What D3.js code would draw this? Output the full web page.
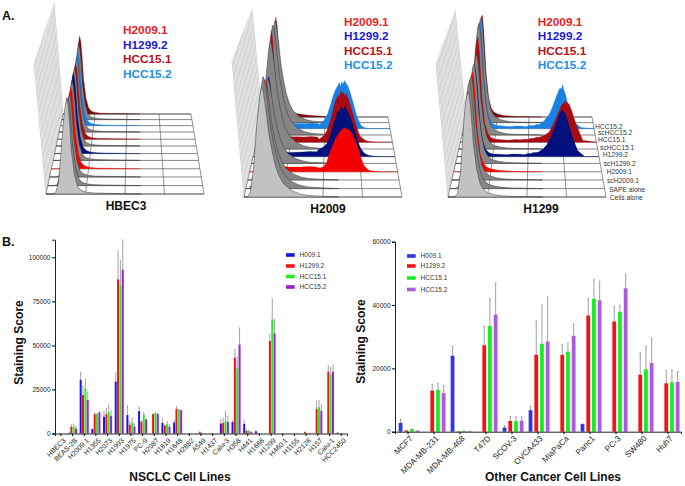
<!DOCTYPE html>
<html><head><meta charset="utf-8">
<script src="https://cdn.jsdelivr.net/npm/d3@7/dist/d3.min.js"></script>
<style>html,body{margin:0;background:#fff}svg{display:block}text{font-family:"Liberation Sans",Arial,sans-serif}</style>
</head><body><svg id="c" width="685" height="486"></svg>
<script>
// ---------- Panel A data ----------
const rowLabels = ["Cells alone","SAPE alone","scH2009.1","H2009.1","scH1299.2","H1299.2","scHCC15.1","HCC15.1","scHCC15.2","HCC15.2"];
const rowLabelX = [609.7,609,607,606.7,603.7,602.7,600,598,598,595];
const rowLabelY = [200,192,182.7,174,165.7,157,149.7,142,135,128.7];
const rowDepth = [0,.105,.213,.315,.42,.505,.6,.685,.775,.855,.93,1];
const rowFill = ["#c2c2c2","#858585","#858585","#f40000","#858585","#00107c","#858585","#a80c12","#858585","#1a80e4","#858585","#7c0c10"];
const lowU = [0,.02,.04,.06,.08,.1,.11,.12,.13,.14,.15,.16,.18,.2,.22,.25,.3,.35,.4,.45];
const lowHBEC3 = [0,0,0,1,12,55,75,90,100,92,72,46,20,8,4,2,1,.8,.6,.5];
const lowH2009 = [0,0,4,25,65,92,100,97,88,78,66,55,40,28,20,12,6,3,1.5,1];
const lowH1299 = [0,0,0,3,25,72,88,97,100,90,72,52,28,14,8,4,2,1,.6,.5];
const stainedH2009 = [0,0,3,20,58,88,100,92,72,54,40,30,18,11,7,4,3,2,1.5,1];
const stainedH1299 = [0,0,0,3,22,68,86,96,100,86,64,42,18,9,5,3,1.5,1,.6,.5];
const shoulderH2009 = [0,0,0,0,0,0,0,0,0,0,0,0,0,0,0,1,2,3,4,4];
const shoulderH1299 = [0,0,0,0,0,0,0,0,0,0,0,0,0,0,0,0,1,1,2,2];
const peaksHBEC3 = [96,88,84,82,80,81,78,76,75,74,76,78];
const peaksH2009 = [110,112,100,92,85,80,108,112,110,100,102,100];
const peaksH1299 = [105,108,104,100,100,88,95,105,112,108,106,102];
const highU = [.46,.48,.5,.52,.54,.56,.58,.6,.61,.62,.63,.64,.65,.66,.68,.7,.72,.74,.75,.76,.77,.78,.8,.82,.85,.9,1];
const h2009Red  = [4,4,5,9,19,26,33,38,40,42,43,44,43,43,41,36,29,21,15,11,7,5,2,1,.5,0,0];
const h2009Navy = [7,8,10,13,19,28,38,46,44,50,47,48,51,47,41,33,24,15,11,8,6,4,2,1,.5,0,0];
const h2009Dark = [3,5,7,12,20,30,41,47,45,51,49,50,46,49,42,33,23,14,10,7,5,4,2,1,.5,0,0];
const h2009Blue = [4,6,9,14,22,31,38,43,46,42,47,44,48,46,42,34,25,15,11,8,5,3,1,.5,0,0,0];
const h1299Navy = [2,2,3,3,4,4,5,7,8,10,11,14,16,19,26,34,42,47,45,44,40,36,26,17,6,0,0];
const h1299Dark = [3,3,3,4,4,5,5,6,7,7,8,9,10,12,17,23,30,36,38,39,41,40,38,31,18,2,0];
const h1299Blue = [2,2,3,3,3,4,4,6,7,8,10,11,13,15,21,28,35,41,39,44,38,35,24,14,6,1,0];
const panelNames = ["HBEC3","H2009","H1299"];
const legendNames = ["H2009.1","H1299.2","HCC15.1","HCC15.2"];
const legendColors = ["#ee1c25","#1a1ad8","#b5121b","#1e90e8"];

// ---------- Panel B data ----------
const nsclcLines = ["HBEC3","BEAS-2B","H2009.1","H1355","H2073","H1993","H1975","PC-9","H2087","H1819","H1648","H2882","A549","H1437","Calu-3","H358","H441","H1666","H1299","H460.1","H1155","H2126","H157","Calu-1","HCC2450"];
const nsclcH009  = [0,300,30500,2500,9500,29500,10500,12700,0,6000,6300,0,100,0,5600,6500,5500,1300,0,0,0,0,0,0,500];
const nsclcH1299 = [0,3800,21800,11000,11000,87500,5000,6800,11000,4500,14000,0,800,0,6000,43000,1500,300,52500,0,0,800,14000,35000,0];
const nsclcHCC1  = [0,4000,25500,11000,12300,84000,6200,10500,11800,5300,13500,0,300,0,7000,37000,1500,100,64800,0,0,200,15000,33500,0];
const nsclcHCC2  = [0,2800,19000,12000,10000,93000,3900,8000,11000,3800,13200,0,0,0,6500,50500,1000,0,56800,0,0,300,13000,35000,0];
const nsclcH009Err  = [0,500,35000,2900,12700,34500,16000,15000,0,8500,7500,0,100,0,8000,7500,7500,1500,0,0,0,0,0,0,500];
const nsclcH1299Err = [0,5000,27000,11800,14500,104000,7000,7200,11300,5000,15500,0,1200,0,8800,48000,2200,300,56400,0,0,1200,18500,38500,0];
const nsclcHCC1Err  = [0,5500,31000,11500,16500,98500,9000,12000,12000,7000,13800,0,300,0,13000,43500,2000,100,76700,0,0,200,19000,37500,0];
const nsclcHCC2Err  = [0,4000,23500,12300,13200,110000,5500,8200,11500,5000,13500,0,0,0,10000,60000,1000,0,64800,0,0,300,16500,39000,0];
const otherLines = ["MCF7","MDA-MB-231","MDA-MB-468","T47D","SCOV-3","OVCA433","MiaPaCa","Panc1","PC-3","SW480","Huh7"];
const otherH009  = [2800,0,24000,0,1300,6800,0,2400,0,0,0];
const otherH1299 = [400,13000,100,27300,3400,24300,24300,36700,34800,18000,15300];
const otherHCC1  = [800,13200,300,33400,3400,27800,25300,42000,37900,19700,15600];
const otherHCC2  = [400,12200,200,37000,3500,28500,30300,41500,45300,21700,15700];
const otherH009Err  = [4000,0,27000,0,1900,8000,0,2500,0,0,0];
const otherH1299Err = [400,15000,100,33300,4800,35000,27500,42000,39500,25000,19300];
const otherHCC1Err  = [900,15300,300,42000,4700,40000,28000,48000,40000,27000,19500];
const otherHCC2Err  = [400,14500,200,47000,4700,42500,34000,47500,49800,29500,19000];
const seriesNames = ["H009.1","H1299.2","HCC15.1","HCC15.2"];
const nsclcTicks = [0,25000,50000,75000,100000];
const otherTicks = [0,20000,40000,60000];
const nsclcColors = ["#1717e0","#f01414","#22ee22","#9a1fd8"];
const otherColors = ["#3038e0","#f01414","#14ee22","#ac5cd8"];

const svg = d3.select("#c");
const txt = (x,y,s,size,o={}) => svg.append("text").attr("x",x).attr("y",y).text(s)
  .attr("font-size",size).attr("font-weight",o.w||"normal").attr("fill",o.f||"#111")
  .attr("text-anchor",o.a||"start").attr("transform",o.t||null);

// ---------- Panel A ----------
const geoms = [
 {fl:46,fr:204,fy:194,bl:63,br:191,by:114,wf:[34,62],wb:[54,3],low:lowHBEC3,stained:lowHBEC3,peaks:peaksHBEC3,sh:null,highs:{},tx:126,ty:210,lx:123,ly:34},
 {fl:244,fr:402,fy:197,bl:262,br:388,by:117,wf:[232,60],wb:[252,9],low:lowH2009,stained:stainedH2009,peaks:peaksH2009,sh:shoulderH2009,highs:{3:h2009Red,5:h2009Navy,7:h2009Dark,9:h2009Blue},tx:328,ty:212.7,lx:344,ly:25.5},
 {fl:448,fr:606,fy:197,bl:466,br:592,by:117,wf:[436,63],wb:[455,10],low:lowH1299,stained:stainedH1299,peaks:peaksH1299,sh:shoulderH1299,highs:{5:h1299Navy,7:h1299Dark,9:h1299Blue},tx:541,ty:212.7,lx:537.7,ly:25.5}
];
const wallSteps = d3.range(0,1.0001,1/19);
geoms.forEach((g,pi)=>{
  const gg = svg.append("g");
  const L = d3.scaleLinear([0,1],[g.fl,g.bl]), R = d3.scaleLinear([0,1],[g.fr,g.br]), Y = d3.scaleLinear([0,1],[g.fy,g.by]);
  const WX = d3.scaleLinear([0,1],[g.wf[0],g.wb[0]]), WY = d3.scaleLinear([0,1],[g.wf[1],g.wb[1]]);
  gg.selectAll(".wall").data(wallSteps).join("line")
    .attr("x1",d=>L(d)).attr("y1",d=>Y(d)).attr("x2",d=>WX(d)).attr("y2",d=>WY(d))
    .attr("stroke","#999").attr("stroke-width",.45);
  gg.append("path").attr("d",d3.line()([[g.fl,g.fy],[g.fr,g.fy],[g.br,g.by],[g.bl,g.by],[g.fl,g.fy]]))
    .attr("fill","#fff").attr("stroke","#666").attr("stroke-width",.7);
  gg.selectAll(".vg").data([.25,.5,.75]).join("line")
    .attr("x1",u=>g.fl+u*(g.fr-g.fl)).attr("y1",g.fy).attr("x2",u=>g.bl+u*(g.br-g.bl)).attr("y2",g.by)
    .attr("stroke","#666").attr("stroke-width",.7);
  d3.range(11,-1,-1).forEach(i=>{
    const t = rowDepth[i];
    const x = d3.scaleLinear([0,1],[L(t),R(t)]);
    const base = Y(t);
    const y = d3.scaleLinear([0,100],[base,base-100]);
    const colored = rowFill[i] !== "#858585" && rowFill[i] !== "#c2c2c2";
    const shape = colored ? g.stained : g.low;
    let pts = lowU.map((u,k)=>[u, shape[k]*g.peaks[i]/100]);
    const hi = g.highs[i];
    if(hi){
      pts = pts.map((p,k)=>[p[0],p[1]+(g.sh?g.sh[k]:0)]);
      pts = pts.concat(highU.map((u,k)=>[u,hi[k]]));
    } else pts.push([.6,0]);
    gg.append("line").attr("x1",x(0)).attr("x2",x(1)).attr("y1",base).attr("y2",base).attr("stroke","#555").attr("stroke-width",.7);
    gg.append("path").attr("d",d3.area().x(d=>x(d[0])).y0(base).y1(d=>y(d[1])).curve(d3.curveLinear)(pts))
      .attr("fill",rowFill[i]).attr("stroke",colored?rowFill[i]:"#3a3a3a").attr("stroke-width",colored?.3:.5);
  });
  legendNames.forEach((n,k)=>txt(g.lx,g.ly+k*14.6,n,11.8,{w:"bold",f:legendColors[k]}));
  txt(g.tx,g.ty,panelNames[pi],12,{w:"bold",a:"middle"});
});
rowLabels.forEach((s,i)=>txt(rowLabelX[i],rowLabelY[i],s,6.7,{f:"#333"}));
txt(2,20,"A.",12.5,{w:"bold"});
txt(2,246,"B.",12.5,{w:"bold"});

// ---------- Panel B ----------
function barChart(o){
  const x = d3.scaleBand(o.cats,o.xr);
  const y = d3.scaleLinear(o.yd,o.yr);
  const inner = d3.scaleBand(d3.range(4),[o.off-o.sp*2,o.off+o.sp*2]);
  const g = svg.append("g");
  o.vals.forEach((vals,s)=>{
    const rows = vals.map((v,i)=>({c:o.cats[i],v,e:o.errs[s][i]})).filter(d=>d.v>0);
    const cx = d=>x(d.c)+x.bandwidth()/2+inner(s)+inner.bandwidth()/2;
    g.selectAll(null).data(rows.filter(d=>d.e>d.v)).join("line")
      .attr("x1",cx).attr("x2",cx).attr("y1",d=>y(d.v)).attr("y2",d=>y(d.e))
      .attr("stroke",o.ec).attr("stroke-width",o.ew);
    g.selectAll(null).data(rows.filter(d=>d.e>d.v)).join("line")
      .attr("x1",d=>cx(d)-o.cap).attr("x2",d=>cx(d)+o.cap).attr("y1",d=>y(d.e)).attr("y2",d=>y(d.e))
      .attr("stroke",o.ec).attr("stroke-width",.6);
    g.selectAll(null).data(rows).join("rect")
      .attr("x",d=>cx(d)-o.bw/2).attr("width",o.bw)
      .attr("y",d=>y(d.v)).attr("height",d=>y(0)-y(d.v)).attr("fill",o.colors[s]);
  });
  const ax = svg.append("g").attr("transform",`translate(0,${y(0)})`).call(d3.axisBottom(x).tickSize(2.5).tickPadding(2));
  ax.selectAll("text").attr("font-size",o.xfs).attr("fill","#222").attr("text-anchor","end")
    .attr("transform","rotate(-45)").attr("dx",-1.5).attr("dy",4.5);
  const ay = svg.append("g").attr("transform",`translate(${o.xr[0]},0)`)
    .call(d3.axisLeft(y).tickValues(o.ticks).tickFormat(d3.format("d")).tickSize(3).tickPadding(1.5));
  ay.selectAll("text").attr("font-size",6.5).attr("fill","#222");
  svg.selectAll(".domain").attr("stroke","#222");
  seriesNames.forEach((n,k)=>{
    svg.append("rect").attr("x",o.lx).attr("y",o.ly[k]-1.8).attr("width",8.7).attr("height",3.6).attr("fill",o.colors[k]);
    txt(o.lx+13.6,o.ly[k]+2.2,n,6.5,{f:"#333"});
  });
}
barChart({cats:nsclcLines,xr:[55,347],yd:[0,110000],yr:[433.5,239.7],ticks:nsclcTicks,xfs:7,
  vals:[nsclcH009,nsclcH1299,nsclcHCC1,nsclcHCC2],errs:[nsclcH009Err,nsclcH1299Err,nsclcHCC1Err,nsclcHCC2Err],
  colors:nsclcColors,sp:2.35,bw:2,off:0,ec:"#999",ew:.9,cap:.4,lx:286,ly:[255,266,276.5,287]});
barChart({cats:otherLines,xr:[395,681],yd:[0,60000],yr:[431.7,241.7],ticks:otherTicks,xfs:8.2,
  vals:[otherH009,otherH1299,otherHCC1,otherHCC2],errs:[otherH009Err,otherH1299Err,otherHCC1Err,otherHCC2Err],
  colors:otherColors,sp:5.7,bw:3.8,off:1.1,ec:"#777",ew:.7,cap:.8,lx:407,ly:[256,266,278,289.5]});
txt(22.5,342.5,"Staining Score",12.1,{w:"bold",a:"middle",t:"rotate(-90 22.5 342.5)"});
txt(365,341.5,"Staining Score",12.1,{w:"bold",a:"middle",t:"rotate(-90 365 341.5)"});
txt(180,481,"NSCLC Cell Lines",12,{w:"bold",a:"middle"});
txt(553,481,"Other Cancer Cell Lines",12,{w:"bold",a:"middle"});
</script></body></html>
